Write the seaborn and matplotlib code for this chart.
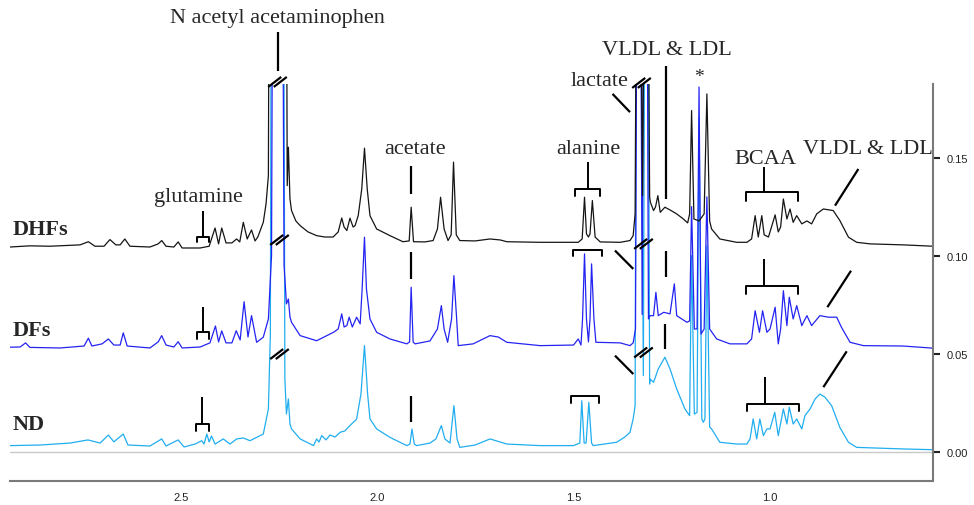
import matplotlib
matplotlib.use("Agg")
import matplotlib.pyplot as plt
import numpy as np
import pandas as pd
import seaborn as sns

# ---------------- data (chemical shift in ppm, stacked intensity) ----------------
samples = ["DHFs", "DFs", "ND"]

dhfs_ppm = [2.937, 2.886, 2.835, 2.758, 2.737, 2.720, 2.697, 2.682, 2.667, 2.656, 2.644, 2.631,
            2.580, 2.559, 2.550, 2.539, 2.519, 2.508, 2.498, 2.452, 2.429, 2.414, 2.405, 2.397,
            2.386, 2.371, 2.359, 2.351, 2.342, 2.332, 2.321, 2.312, 2.305, 2.291, 2.284, 2.278,
            2.274, 2.234, 2.230, 2.227, 2.223, 2.219, 2.208, 2.197, 2.177, 2.155, 2.134, 2.113,
            2.100, 2.091, 2.085, 2.078, 2.070, 2.062, 2.057, 2.049, 2.040, 2.033, 2.026, 2.019,
            2.002, 1.968, 1.935, 1.919, 1.914, 1.908, 1.879, 1.858, 1.847, 1.839, 1.830, 1.820,
            1.812, 1.806, 1.799, 1.790, 1.751, 1.713, 1.687, 1.670, 1.585, 1.488, 1.478, 1.472,
            1.467, 1.462, 1.458, 1.452, 1.445, 1.432, 1.381, 1.356, 1.348, 1.343, 1.336, 1.324,
            1.314, 1.306, 1.304, 1.296, 1.291, 1.285, 1.279, 1.267, 1.254, 1.237, 1.220, 1.209,
            1.204, 1.199, 1.193, 1.180, 1.167, 1.160, 1.153, 1.148, 1.127, 1.084, 1.058, 1.046,
            1.037, 1.029, 1.020, 1.014, 1.003, 0.986, 0.978, 0.972, 0.965, 0.956, 0.948, 0.940,
            0.931, 0.918, 0.905, 0.893, 0.880, 0.863, 0.838, 0.821, 0.799, 0.778, 0.744, 0.660,
            0.583]
dhfs_int = [0.1044, 0.1050, 0.1048, 0.1055, 0.1071, 0.1048, 0.1048, 0.1082, 0.1055, 0.1055, 0.1085, 0.1048,
            0.1044, 0.1060, 0.1077, 0.1048, 0.1044, 0.1070, 0.1039, 0.1039, 0.1048, 0.1141, 0.1060, 0.1141,
            0.1065, 0.1065, 0.1085, 0.1070, 0.1170, 0.1085, 0.1131, 0.1075, 0.1095, 0.1170, 0.1264, 0.1408,
            0.4000, 0.4000, 0.1357, 0.1553, 0.1289, 0.1230, 0.1177, 0.1153, 0.1121, 0.1102, 0.1095, 0.1095,
            0.1121, 0.1192, 0.1146, 0.1128, 0.1191, 0.1146, 0.1153, 0.1204, 0.1340, 0.1548, 0.1340, 0.1204,
            0.1136, 0.1102, 0.1071, 0.1075, 0.1247, 0.1071, 0.1070, 0.1077, 0.1136, 0.1298, 0.1136, 0.1077,
            0.1106, 0.1477, 0.1106, 0.1077, 0.1075, 0.1085, 0.1080, 0.1071, 0.1068, 0.1068, 0.1085, 0.1298,
            0.1111, 0.1095, 0.1111, 0.1281, 0.1095, 0.1070, 0.1068, 0.1077, 0.1102, 0.1213, 0.4000, 0.1306,
            0.4000, 0.1300, 0.1272, 0.1230, 0.1248, 0.1306, 0.1221, 0.1247, 0.1233, 0.1213, 0.1187, 0.1167,
            0.1213, 0.1740, 0.1187, 0.1177, 0.1213, 0.1825, 0.1177, 0.1136, 0.1085, 0.1068, 0.1068, 0.1085,
            0.1204, 0.1095, 0.1204, 0.1106, 0.1095, 0.1208, 0.1121, 0.1146, 0.1289, 0.1187, 0.1238, 0.1170,
            0.1204, 0.1162, 0.1177, 0.1162, 0.1213, 0.1238, 0.1230, 0.1179, 0.1094, 0.1068, 0.1060, 0.1055,
            0.1048]

dfs_ppm = [2.937, 2.911, 2.897, 2.886, 2.809, 2.748, 2.737, 2.728, 2.702, 2.686, 2.672, 2.656,
           2.648, 2.638, 2.580, 2.559, 2.550, 2.539, 2.519, 2.508, 2.498, 2.452, 2.427, 2.413,
           2.405, 2.397, 2.386, 2.371, 2.360, 2.350, 2.340, 2.330, 2.321, 2.308, 2.291, 2.278,
           2.270, 2.263, 2.247, 2.238, 2.232, 2.227, 2.223, 2.219, 2.197, 2.155, 2.129, 2.112,
           2.100, 2.091, 2.085, 2.078, 2.072, 2.064, 2.053, 2.044, 2.039, 2.033, 2.028, 2.019,
           2.002, 1.968, 1.925, 1.918, 1.914, 1.909, 1.904, 1.866, 1.847, 1.837, 1.830, 1.821,
           1.811, 1.805, 1.798, 1.794, 1.756, 1.713, 1.692, 1.670, 1.585, 1.500, 1.488, 1.481,
           1.477, 1.472, 1.467, 1.462, 1.458, 1.454, 1.448, 1.443, 1.381, 1.356, 1.348, 1.342,
           1.334, 1.325, 1.317, 1.309, 1.305, 1.296, 1.290, 1.284, 1.270, 1.254, 1.243, 1.237,
           1.211, 1.204, 1.199, 1.192, 1.185, 1.180, 1.175, 1.167, 1.160, 1.153, 1.135, 1.101,
           1.058, 1.046, 1.037, 1.026, 1.018, 1.007, 0.999, 0.986, 0.978, 0.972, 0.965, 0.956,
           0.950, 0.940, 0.931, 0.918, 0.905, 0.893, 0.872, 0.850, 0.829, 0.817, 0.795, 0.761,
           0.660, 0.583]
dfs_int = [0.0533, 0.0534, 0.0555, 0.0532, 0.0529, 0.0539, 0.0579, 0.0539, 0.0550, 0.0575, 0.0544, 0.0544,
           0.0606, 0.0539, 0.0529, 0.0560, 0.0592, 0.0544, 0.0534, 0.0561, 0.0529, 0.0534, 0.0555, 0.0641,
           0.0560, 0.0616, 0.0555, 0.0555, 0.0617, 0.0570, 0.0765, 0.0585, 0.0694, 0.0558, 0.0584, 0.0677,
           0.1000, 0.5000, 0.5000, 0.0950, 0.0754, 0.0779, 0.0687, 0.0660, 0.0592, 0.0566, 0.0592, 0.0609,
           0.0626, 0.0703, 0.0636, 0.0643, 0.0686, 0.0636, 0.0686, 0.0652, 0.0830, 0.1094, 0.0830, 0.0677,
           0.0609, 0.0575, 0.0550, 0.0560, 0.0839, 0.0560, 0.0550, 0.0565, 0.0626, 0.0745, 0.0626, 0.0558,
           0.0677, 0.0898, 0.0677, 0.0541, 0.0550, 0.0592, 0.0585, 0.0558, 0.0541, 0.0544, 0.0575, 0.0544,
           0.0677, 0.1009, 0.0677, 0.0560, 0.0677, 0.0958, 0.0677, 0.0558, 0.0555, 0.0541, 0.0555, 0.0626,
           0.5000, 0.0700, 0.5000, 0.0677, 0.0694, 0.0694, 0.0813, 0.0694, 0.0711, 0.0703, 0.0856, 0.0694,
           0.0660, 0.0667, 0.1250, 0.0626, 0.0626, 0.1860, 0.0600, 0.0626, 0.1300, 0.0626, 0.0575, 0.0550,
           0.0550, 0.0575, 0.0719, 0.0609, 0.0719, 0.0609, 0.0626, 0.0737, 0.0550, 0.0626, 0.0821, 0.0643,
           0.0788, 0.0677, 0.0745, 0.0643, 0.0694, 0.0643, 0.0694, 0.0686, 0.0686, 0.0635, 0.0558, 0.0541,
           0.0539, 0.0528]

nd_ppm = [2.937, 2.860, 2.784, 2.738, 2.707, 2.686, 2.672, 2.648, 2.636, 2.580, 2.550, 2.539,
          2.508, 2.493, 2.465, 2.448, 2.442, 2.435, 2.429, 2.423, 2.414, 2.393, 2.376, 2.359,
          2.342, 2.325, 2.291, 2.278, 2.273, 2.268, 2.242, 2.236, 2.232, 2.227, 2.223, 2.219,
          2.197, 2.163, 2.155, 2.149, 2.142, 2.131, 2.121, 2.108, 2.095, 2.083, 2.070, 2.053,
          2.042, 2.033, 2.025, 2.019, 2.002, 1.968, 1.925, 1.917, 1.912, 1.906, 1.900, 1.866,
          1.851, 1.837, 1.828, 1.815, 1.805, 1.797, 1.790, 1.751, 1.713, 1.670, 1.585, 1.500,
          1.484, 1.479, 1.473, 1.468, 1.461, 1.454, 1.450, 1.390, 1.369, 1.356, 1.348, 1.343,
          1.337, 1.322, 1.314, 1.306, 1.305, 1.296, 1.284, 1.267, 1.254, 1.237, 1.216, 1.204,
          1.199, 1.192, 1.185, 1.180, 1.173, 1.169, 1.165, 1.160, 1.153, 1.148, 1.127, 1.084,
          1.058, 1.050, 1.042, 1.033, 1.025, 1.016, 1.007, 0.999, 0.987, 0.978, 0.965, 0.956,
          0.950, 0.940, 0.931, 0.918, 0.910, 0.897, 0.884, 0.872, 0.859, 0.842, 0.821, 0.799,
          0.778, 0.660, 0.583]
nd_int = [0.0031, 0.0034, 0.0044, 0.0060, 0.0044, 0.0085, 0.0050, 0.0090, 0.0034, 0.0029, 0.0065, 0.0029,
          0.0060, 0.0024, 0.0039, 0.0056, 0.0039, 0.0090, 0.0050, 0.0080, 0.0039, 0.0065, 0.0039, 0.0065,
          0.0070, 0.0056, 0.0090, 0.0218, 0.0600, 0.5000, 0.5000, 0.0371, 0.0192, 0.0269, 0.0141, 0.0116,
          0.0065, 0.0031, 0.0065, 0.0049, 0.0082, 0.0060, 0.0085, 0.0075, 0.0099, 0.0106, 0.0133, 0.0167,
          0.0294, 0.0541, 0.0294, 0.0167, 0.0116, 0.0073, 0.0031, 0.0039, 0.0116, 0.0039, 0.0031, 0.0044,
          0.0065, 0.0133, 0.0065, 0.0044, 0.0235, 0.0065, 0.0022, 0.0034, 0.0065, 0.0039, 0.0031, 0.0031,
          0.0044, 0.0260, 0.0044, 0.0044, 0.0252, 0.0044, 0.0031, 0.0048, 0.0075, 0.0099, 0.0167, 0.0235,
          0.5000, 0.0388, 0.5000, 0.0345, 0.0371, 0.0354, 0.0422, 0.0482, 0.0422, 0.0320, 0.0218, 0.0184,
          0.1000, 0.0192, 0.0201, 0.1700, 0.0167, 0.0150, 0.0167, 0.1050, 0.0126, 0.0116, 0.0048, 0.0039,
          0.0039, 0.0065, 0.0167, 0.0065, 0.0167, 0.0082, 0.0116, 0.0116, 0.0201, 0.0082, 0.0218, 0.0141,
          0.0227, 0.0141, 0.0167, 0.0116, 0.0184, 0.0218, 0.0269, 0.0294, 0.0278, 0.0235, 0.0124, 0.0048,
          0.0022, 0.0014, 0.0010]

x_ticks = [2.5, 2.0, 1.5, 1.0]
x_tick_labels = ["2.5", "2.0", "1.5", "1.0"]
y_ticks = [0.00, 0.05, 0.10, 0.15]
y_tick_labels = ["0.00", "0.05", "0.10", "0.15"]

# ---------------- figure ----------------
sns.set_style("white")
plt.rcParams["font.family"] = ["Liberation Serif", "DejaVu Serif"]

df = pd.concat([
    pd.DataFrame({"ppm": dhfs_ppm, "intensity": dhfs_int, "sample": "DHFs"}),
    pd.DataFrame({"ppm": dfs_ppm, "intensity": dfs_int, "sample": "DFs"}),
    pd.DataFrame({"ppm": nd_ppm, "intensity": nd_int, "sample": "ND"}),
], ignore_index=True)

palette = {"DHFs": "#151515", "DFs": "#2424f2", "ND": "#21aef0"}

fig = plt.figure(figsize=(9.74, 5.06), dpi=100)
ax = fig.add_axes([10 / 974, 24 / 506, 923 / 974, 397 / 506])

ax.axhline(0.0, color="#c9c9c9", lw=1.0, zorder=0)
sns.lineplot(data=df, x="ppm", y="intensity", hue="sample", hue_order=["ND", "DFs", "DHFs"],
             palette=palette, estimator=None, sort=True, legend=False, linewidth=0.9, ax=ax)

XL, XR = 2.9368, 0.5835
YB, YT = -0.01495, 0.18755
ax.set_xlim(XL, XR)
ax.set_ylim(YB, YT)
ax.set_xlabel("")
ax.set_ylabel("")

for s in ["left", "top"]:
    ax.spines[s].set_visible(False)
for s in ["bottom", "right"]:
    ax.spines[s].set_color("#7a7a7a")
    ax.spines[s].set_linewidth(1.5)

ax.yaxis.tick_right()
ax.set_xticks(x_ticks)
ax.set_xticklabels(x_tick_labels)
ax.set_yticks(y_ticks)
ax.set_yticklabels(y_tick_labels)
ax.tick_params(axis="x", direction="out", length=4, width=1.5, color="#222222", pad=4, labelsize=8)
ax.tick_params(axis="y", direction="out", length=5, width=1.5, color="#222222", pad=5, labelsize=8,
               right=True, left=False)
for lbl in ax.get_xticklabels() + ax.get_yticklabels():
    lbl.set_family(["Liberation Sans Narrow", "Liberation Sans", "DejaVu Sans"])
    lbl.set_color("#222222")

PX = (XL - XR) / 923.0   # ppm per pixel
PY = (YT - YB) / 397.0   # intensity per pixel
LW = 1.6


def line(x0, y0, x1, y1, lw=LW):
    ax.plot([x0, x1], [y0, y1], color="black", lw=lw, clip_on=False, solid_capstyle="butt", zorder=5)


def bracket(xl, xr, y, leg, stem_x=None, stem_top=None):
    ax.plot([xl, xl, xr, xr], [y - leg, y, y, y - leg], color="black", lw=1.4,
            clip_on=False, zorder=5)
    if stem_x is not None:
        line(stem_x, y, stem_x, stem_top, lw=1.4)


def break_mark(xc, yc):
    for off in (-2.8, 2.8):
        x0 = xc - (off - 6.5) * PX
        x1 = xc - (off + 6.5) * PX
        ax.plot([x0, x1], [yc - 5 * PY, yc + 5 * PY], color="black", lw=1.6,
                clip_on=False, zorder=6, solid_capstyle="butt")


tfs = 16
# N acetyl acetaminophen
ax.text(2.256, 0.2213, "N acetyl acetaminophen", fontsize=tfs, ha="center", va="center")
line(2.253, 0.2141, 2.253, 0.1942)
break_mark(2.2548, 0.1886)
break_mark(2.2497, 0.1080)
break_mark(2.2497, 0.0498)

# glutamine
ax.text(2.4575, 0.1300, "glutamine", fontsize=tfs, ha="center", va="center")
bracket(2.4608, 2.4294, 0.1094, 0.0026, 2.4455, 0.1230)
bracket(2.4608, 2.4294, 0.0609, 0.0034, 2.4455, 0.0738)
bracket(2.4633, 2.4294, 0.0141, 0.0034, 2.4480, 0.0279)

# acetate
ax.text(1.905, 0.1544, "acetate", fontsize=tfs, ha="center", va="center")
line(1.9136, 0.1459, 1.9136, 0.1314)
line(1.9136, 0.1018, 1.9136, 0.0881)
line(1.9136, 0.0285, 1.9136, 0.0150)

# alanine
ax.text(1.4631, 0.1549, "alanine", fontsize=tfs, ha="center", va="center")
bracket(1.4962, 1.4325, 0.1340, 0.0034, 1.4638, 0.1478)
bracket(1.5006, 1.4282, 0.1031, 0.0034)
bracket(1.5064, 1.4358, 0.0283, 0.0035)

# lactate
ax.text(1.4325, 0.1891, "lactate", fontsize=tfs, ha="center", va="center")
line(1.4006, 0.1825, 1.3560, 0.1732)
line(1.3943, 0.1026, 1.3476, 0.0932)
line(1.3943, 0.0490, 1.3476, 0.0396)
break_mark(1.3267, 0.1881)
break_mark(1.3216, 0.1060)
break_mark(1.3216, 0.0506)

# VLDL & LDL (1.27 ppm)
ax.text(1.2617, 0.2049, "VLDL & LDL", fontsize=tfs, ha="center", va="center")
line(1.2642, 0.1969, 1.2642, 0.1289)
line(1.2642, 0.1026, 1.2642, 0.0890)
line(1.2680, 0.0652, 1.2680, 0.0524)

# asterisk
ax.text(1.1801, 0.1915, "*", fontsize=14, ha="center", va="center")

# BCAA
ax.text(1.0118, 0.1498, "BCAA", fontsize=tfs, ha="center", va="center")
bracket(1.0602, 0.9269, 0.1323, 0.0042, 1.0143, 0.1453)
bracket(1.0602, 0.9269, 0.0847, 0.0042, 1.0143, 0.0983)
bracket(1.0584, 0.9243, 0.0243, 0.0034, 1.0125, 0.0381)

# VLDL & LDL (0.86 ppm)
ax.text(0.7492, 0.1544, "VLDL & LDL", fontsize=tfs, ha="center", va="center")
line(0.7738, 0.1442, 0.8333, 0.1255)
line(0.7925, 0.0923, 0.8529, 0.0737)
line(0.8035, 0.0512, 0.8631, 0.0329)

# sample labels
for name, yv in zip(samples, [0.1135, 0.0621, 0.0141]):
    ax.text(2.931, yv, name, fontsize=16, fontweight="bold", ha="left", va="center")

fig.savefig("out.png", dpi=100)
